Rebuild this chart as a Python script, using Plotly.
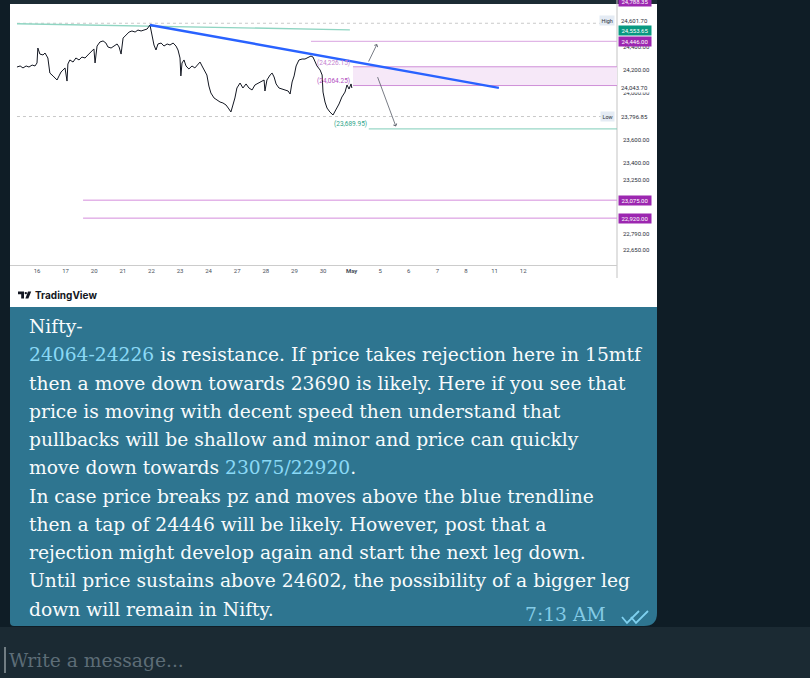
import plotly.graph_objects as go

W, H = 810, 678

# ---------------- data ----------------
day_labels = ["16", "17", "20", "21", "22", "23", "24", "27", "28", "29", "30",
              "<b>May</b>", "5", "6", "7", "8", "11", "12"]
day_pos = list(range(len(day_labels)))

# 15m Nifty close path (x = trading-day index, fractional within session)
price_t = [-0.70, -0.59, -0.49, -0.38, -0.28, -0.17, -0.07, 0.00, 0.03, 0.10,
           0.21, 0.28, 0.38, 0.45, 0.56, 0.63, 0.70, 0.77, 0.84, 0.91,
           0.98, 1.05, 1.08, 1.15, 1.26, 1.36, 1.47, 1.57, 1.68, 1.78,
           1.89, 1.99, 2.03, 2.10, 2.20, 2.31, 2.41, 2.48, 2.59, 2.69,
           2.80, 2.87, 2.94, 3.01, 3.11, 3.22, 3.32, 3.43, 3.53, 3.64,
           3.74, 3.85, 3.95, 4.02, 4.09, 4.16, 4.23, 4.34, 4.44, 4.55,
           4.65, 4.76, 4.86, 4.93, 5.00, 5.03, 5.07, 5.14, 5.21, 5.31,
           5.42, 5.52, 5.63, 5.70, 5.77, 5.87, 5.94, 6.01, 6.08, 6.19,
           6.29, 6.40, 6.50, 6.61, 6.71, 6.78, 6.85, 6.92, 6.99, 7.10,
           7.20, 7.31, 7.41, 7.52, 7.62, 7.73, 7.83, 7.94, 7.97, 8.04,
           8.15, 8.22, 8.29, 8.36, 8.46, 8.57, 8.67, 8.78, 8.85, 8.92,
           8.99, 9.06, 9.16, 9.27, 9.37, 9.48, 9.58, 9.65, 9.72, 9.79,
           9.90, 9.97, 10.00, 10.07, 10.14, 10.24, 10.35, 10.45, 10.56, 10.66,
           10.77, 10.84, 10.91, 10.98, 11.01]
price_close = [24224, 24233, 24216, 24233, 24224, 24241, 24233, 24259, 24388, 24336,
               24328, 24345, 24302, 24172, 24147, 24129, 24112, 24147, 24181, 24198,
               24216, 24103, 24250, 24285, 24267, 24302, 24285, 24310, 24302, 24328,
               24354, 24380, 24259, 24405, 24440, 24449, 24431, 24397, 24388, 24405,
               24423, 24397, 24336, 24474, 24500, 24526, 24535, 24526, 24543, 24535,
               24543, 24552, 24587, 24492, 24414, 24371, 24423, 24431, 24405, 24423,
               24414, 24431, 24405, 24371, 24302, 24147, 24259, 24285, 24233, 24207,
               24233, 24216, 24250, 24267, 24233, 24190, 24155, 24060, 24000, 23957,
               23939, 23922, 23914, 23896, 23862, 23836, 23896, 23957, 24043, 24086,
               24043, 24078, 24043, 24026, 24069, 24086, 24095, 24112, 24017, 24112,
               24155, 24172, 24138, 24078, 24043, 24034, 24026, 24017, 23991, 24095,
               24147, 24233, 24285, 24293, 24293, 24310, 24319, 24310, 24267, 24233,
               24198, 24155, 24008, 23922, 23870, 23836, 23810, 23853, 23905, 23965,
               24008, 24069, 24034, 24078, 24043]
assert len(price_t) == len(price_close)

HIGH = 24601.70
LOW = 23796.85
ZONE_TOP = 24226.15
ZONE_BOT = 24064.25
TAP_LEVEL = 24446.00
TARGET_1 = 23689.95
TARGET_2 = 23075.00
TARGET_3 = 22920.00

trend_t = [3.95, 16.15]
trend_p = [24587.0, 24043.7]
ma_t = [-0.70, 10.94]
ma_p = [24598.0, 24545.0]

# level start positions (day index)
tap_start = 9.58
zone_start = 11.05
t1_start = 11.60
t23_start = 1.61

# arrows (day index, price)
up_arrow = [(11.57, 24259.0), (11.89, 24422.0)]
down_arrow = [(11.89, 24150.0), (12.55, 23711.0)]

# right price scale
plain_ticks = [24400.00, 24200.00, 24000.00, 23600.00, 23400.00, 23250.00,
               23100.00, 22790.00, 22650.00]
marked_prices = [24601.70, 24043.70, 23796.85]
boxed_prices = [24788.35, 24553.65, 24446.00, 23075.00, 22920.00]
boxed_colors = ["#9c27b0", "#089981", "#9c27b0", "#9c27b0", "#9c27b0"]

message_lines = [
    "Nifty-",
    "{h}24064-24226{e} is resistance. If price takes rejection here in 15mtf",
    "then a move down towards 23690 is likely. Here if you see that",
    "price is moving with decent speed then understand that",
    "pullbacks will be shallow and minor and price can quickly",
    "move down towards {h}23075/22920{e}.",
    "In case price breaks pz and moves above the blue trendline",
    "then a tap of 24446 will be likely. However, post that a",
    "rejection might develop again and start the next leg down.",
    "Until price sustains above 24602, the possibility of a bigger leg",
    "down will remain in Nifty.",
]
msg_time = "7:13 AM"

# ---------------- layout helpers ----------------
def X(px):
    return px / W


def Y(py):
    return 1 - py / H


X_RANGE = [(10 - 37) / 28.6, (617 - 37) / 28.6]
Y_RANGE = [24446 - (265 - 41.3) * 8.63, 24446 + 41.3 * 8.63]

BG = "#0f1d26"
BUBBLE = "#2e7590"
INPUT = "#1b2a33"
LINK = "#8ad9f6"
PINK = "#d9a3e0"
SERIF = "DejaVu Serif"
MSG_SIZE = 18.7
SANS = "Roboto"

fig = go.Figure()

# moving-average-like teal line
fig.add_trace(go.Scatter(x=ma_t, y=ma_p, mode="lines",
                         line=dict(color="#8fd5c2", width=1.4), hoverinfo="skip"))
# price
fig.add_trace(go.Scatter(x=price_t, y=price_close, mode="lines",
                         line=dict(color="#131722", width=1), hoverinfo="skip"))
# blue trendline
fig.add_trace(go.Scatter(x=trend_t, y=trend_p, mode="lines",
                         line=dict(color="#2962ff", width=2.4), hoverinfo="skip"))

shapes = []
# white image
shapes.append(dict(type="rect", xref="paper", yref="paper", layer="below",
                   x0=X(10), x1=X(657), y0=Y(307), y1=Y(0),
                   fillcolor="#ffffff", line=dict(width=0)))
# top dark band
shapes.append(dict(type="rect", xref="paper", yref="paper", layer="below",
                   x0=X(10), x1=X(657), y0=Y(4), y1=Y(0),
                   fillcolor="#1c2b34", line=dict(width=0)))
# bubble
bubble_path = (f"M {X(10)},{Y(307)} L {X(657)},{Y(307)} L {X(657)},{Y(613)} "
               f"Q {X(657)},{Y(626)} {X(644)},{Y(626)} L {X(14)},{Y(626)} "
               f"Q {X(10)},{Y(626)} {X(10)},{Y(622)} Z")
shapes.append(dict(type="path", xref="paper", yref="paper", layer="below",
                   path=bubble_path, fillcolor=BUBBLE, line=dict(width=0)))
# input bar
shapes.append(dict(type="rect", xref="paper", yref="paper", layer="below",
                   x0=0, x1=1, y0=0, y1=Y(627),
                   fillcolor=INPUT, line=dict(width=0)))
# cursor
shapes.append(dict(type="line", xref="paper", yref="paper",
                   x0=X(5), x1=X(5), y0=Y(647), y1=Y(673),
                   line=dict(color="#c8d0d4", width=1)))
# right price axis line
shapes.append(dict(type="line", xref="paper", yref="paper", layer="below",
                   x0=X(617), x1=X(617), y0=Y(278), y1=Y(0),
                   line=dict(color="#c3c3c3", width=1)))
# High / Low dotted lines
for lvl in (HIGH, LOW):
    shapes.append(dict(type="line", xref="x", yref="y", layer="below",
                       x0=price_t[0], x1=X_RANGE[1], y0=lvl, y1=lvl,
                       line=dict(color="#c9c9c9", width=1, dash="dot")))
# tap level
shapes.append(dict(type="line", xref="x", yref="y", layer="below",
                   x0=tap_start, x1=X_RANGE[1], y0=TAP_LEVEL, y1=TAP_LEVEL,
                   line=dict(color=PINK, width=1)))
# resistance zone
shapes.append(dict(type="rect", xref="x", yref="y", layer="below",
                   x0=zone_start, x1=X_RANGE[1], y0=ZONE_BOT, y1=ZONE_TOP,
                   fillcolor="#f6e8f8", line=dict(width=0)))
for lvl in (ZONE_TOP, ZONE_BOT):
    shapes.append(dict(type="line", xref="x", yref="y", layer="below",
                       x0=zone_start, x1=X_RANGE[1], y0=lvl, y1=lvl,
                       line=dict(color="#cf8fd8", width=1)))
# target 1
shapes.append(dict(type="line", xref="x", yref="y", layer="below",
                   x0=t1_start, x1=X_RANGE[1], y0=TARGET_1, y1=TARGET_1,
                   line=dict(color="#7fcdb8", width=1)))
# targets 2/3
for lvl in (TARGET_2, TARGET_3):
    shapes.append(dict(type="line", xref="x", yref="y", layer="below",
                       x0=t23_start, x1=X_RANGE[1], y0=lvl, y1=lvl,
                       line=dict(color="#d58ddc", width=1)))
# double check marks
for dx in (0, 9):
    shapes.append(dict(type="path", xref="paper", yref="paper",
                       path=(f"M {X(622 + dx)},{Y(617)} L {X(627 + dx)},{Y(623)} "
                             f"L {X(639 + dx)},{Y(611)}"),
                       line=dict(color="#7fd0ef", width=1.8)))
# TradingView logo
shapes.append(dict(type="path", xref="paper", yref="paper",
                   path=(f"M {X(18)},{Y(291.5)} L {X(24)},{Y(291.5)} L {X(24)},{Y(298.5)} "
                         f"L {X(21.2)},{Y(298.5)} L {X(21.2)},{Y(294.3)} L {X(18)},{Y(294.3)} Z"),
                   fillcolor="#131722", line=dict(width=0)))
shapes.append(dict(type="circle", xref="paper", yref="paper",
                   x0=X(24.6), x1=X(27.0), y0=Y(294.3), y1=Y(291.9),
                   fillcolor="#131722", line=dict(width=0)))
shapes.append(dict(type="path", xref="paper", yref="paper",
                   path=(f"M {X(28.0)},{Y(291.5)} L {X(31.2)},{Y(291.5)} L {X(28.4)},{Y(298.5)} "
                         f"L {X(25.4)},{Y(298.5)} Z"),
                   fillcolor="#131722", line=dict(width=0)))

ann = []
# arrows
for (x0, y0), (x1, y1) in (up_arrow, down_arrow):
    ann.append(dict(x=x1, y=y1, ax=x0, ay=y0, xref="x", yref="y", axref="x", ayref="y",
                    text="", showarrow=True, arrowhead=4, arrowsize=0.9,
                    arrowwidth=0.8, arrowcolor="#555a66"))
# level text labels on chart
lbl_x = 10.38
ann.append(dict(x=lbl_x, y=ZONE_TOP, yshift=4, xref="x", yref="y", showarrow=False,
                text="(24,226.15)", font=dict(family=SANS, size=6.5, color="#c47fd0")))
ann.append(dict(x=lbl_x, y=ZONE_BOT, yshift=5, xref="x", yref="y", showarrow=False,
                text="(24,064.25)", font=dict(family=SANS, size=6.5, color="#b24fc0")))
ann.append(dict(x=10.95, y=TARGET_1, yshift=5, xref="x", yref="y", showarrow=False,
                text="(23,689.95)", font=dict(family=SANS, size=6.5, color="#2fa58a")))

def fmt(v):
    return f"{v:,.2f}"

# label nudges (px) where the price scale stacks colliding labels
nudge = {24601.70: 2.5, 24553.65: -2.0, 24446.00: 0.0}

# right scale plain ticks
for v in plain_ticks:
    ann.append(dict(x=X(621), y=v, xref="paper", yref="y", xanchor="left", showarrow=False,
                    text=fmt(v), font=dict(family=SANS, size=6, color="#2a2e39")))
# marked prices with white background
for v in marked_prices:
    ann.append(dict(x=X(619), y=v, yshift=nudge.get(v, 0), xref="paper", yref="y",
                    xanchor="left", showarrow=False,
                    text=fmt(v), bgcolor="#ffffff", borderpad=1,
                    font=dict(family=SANS, size=6, color="#2a2e39")))
for v, tag in ((HIGH, "High"), (LOW, "Low")):
    ann.append(dict(x=X(615), y=v, yshift=nudge.get(v, 0), xref="paper", yref="y",
                    xanchor="right", showarrow=False,
                    text=tag, bgcolor="#e4ebf4", borderpad=1.5,
                    font=dict(family=SANS, size=5.5, color="#2a2e39")))
# boxed prices
for v, c in zip(boxed_prices, boxed_colors):
    ann.append(dict(x=X(618), y=v, yshift=nudge.get(v, 0), xref="paper", yref="y",
                    xanchor="left", showarrow=False,
                    text=fmt(v), bgcolor=c, borderpad=1, width=30,
                    font=dict(family=SANS, size=6, color="#ffffff")))

# TradingView wordmark
ann.append(dict(x=X(32.5), y=Y(295), xref="paper", yref="paper", xanchor="left",
                yanchor="middle", showarrow=False, text="<b>TradingView</b>",
                font=dict(family="Inter", size=10, color="#131722")))

# message text
for i, line in enumerate(message_lines):
    txt = line.format(h=f"<span style='color:{LINK}'>", e="</span>")
    ann.append(dict(x=X(27), y=Y(326.5 + 28.25 * i), xref="paper", yref="paper",
                    xanchor="left", yanchor="middle", showarrow=False, text=txt,
                    font=dict(family=SERIF, size=MSG_SIZE, color="#f8fbfc")))
ann.append(dict(x=X(608), y=Y(614), xref="paper", yref="paper", xanchor="right",
                yanchor="middle", showarrow=False, text=msg_time,
                font=dict(family=SERIF, size=MSG_SIZE, color="#84cbe6")))
ann.append(dict(x=X(7), y=Y(660), xref="paper", yref="paper", xanchor="left",
                yanchor="middle", showarrow=False, text="Write a message...",
                font=dict(family=SERIF, size=MSG_SIZE, color="#5d6d77")))

fig.update_layout(
    width=W, height=H, margin=dict(l=0, r=0, t=0, b=0),
    paper_bgcolor=BG, plot_bgcolor="rgba(0,0,0,0)", showlegend=False,
    shapes=shapes, annotations=ann,
    xaxis=dict(domain=[X(10), X(617)], range=X_RANGE, showgrid=False, zeroline=False,
               showline=True, linecolor="#cccccc", linewidth=1,
               tickvals=day_pos, ticktext=day_labels, ticks="outside", ticklen=0,
               tickcolor="rgba(0,0,0,0)", tickfont=dict(family=SANS, size=6, color="#4a4f5c"),
               fixedrange=True),
    yaxis=dict(domain=[Y(265), 1], range=Y_RANGE, visible=False, fixedrange=True),
)

fig.write_html(
    "out.html",
    config={"displayModeBar": False},
    post_script=("document.body.style.margin='0px';"
                 "document.body.style.overflow='hidden';"
                 f"document.body.style.background='{BG}';"),
)
